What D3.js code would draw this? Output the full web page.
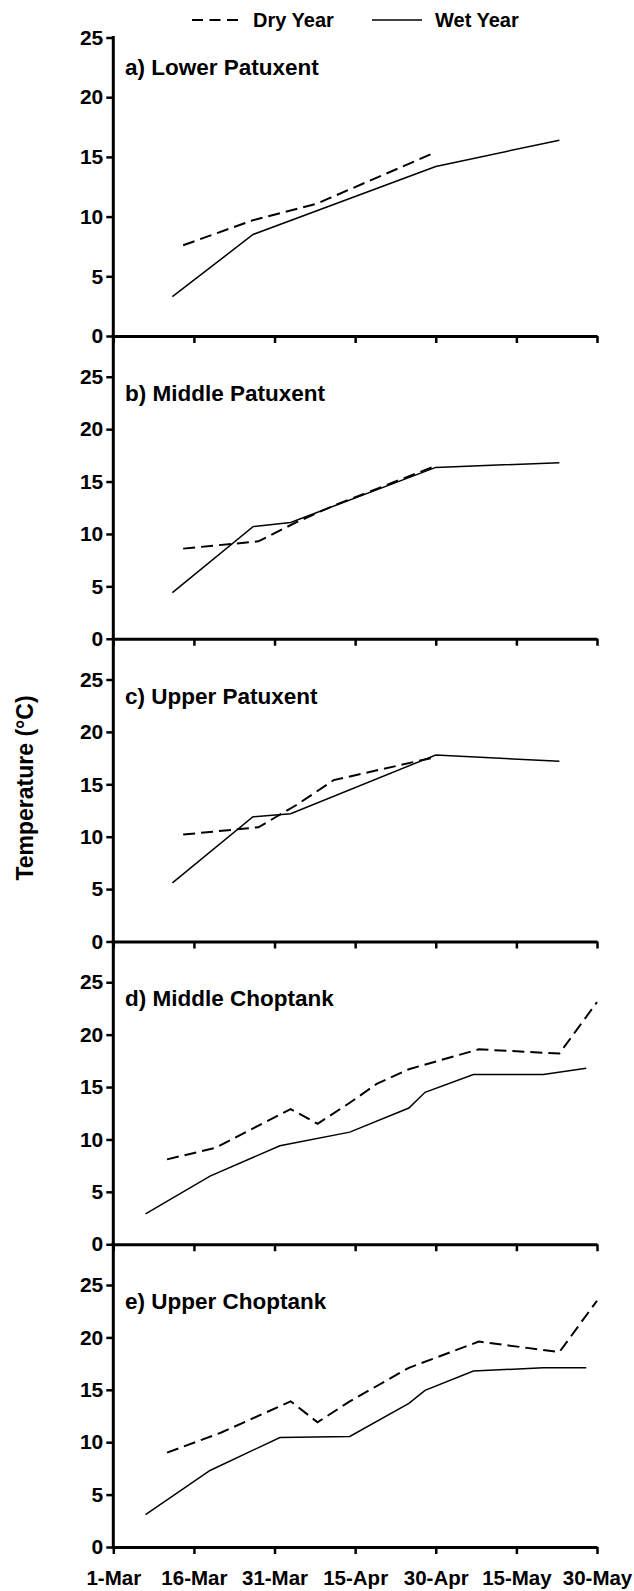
<!DOCTYPE html>
<html><head><meta charset="utf-8">
<script src="https://cdn.jsdelivr.net/npm/d3@7"></script>
<style>
html,body{margin:0;padding:0;background:#fff;}
svg{display:block;}
text{font-family:"Liberation Sans",Arial,Helvetica,sans-serif;font-weight:bold;fill:#000;}
</style></head><body>
<svg id="chart" width="634" height="1591"></svg>
<script>
// ---- data ----
const panelTitles = ["a) Lower Patuxent","b) Middle Patuxent","c) Upper Patuxent","d) Middle Choptank","e) Upper Choptank"];
const xTickDates = ["03-01","03-16","03-31","04-15","04-30","05-15","05-30"];
const xTickLabels = ["1-Mar","16-Mar","31-Mar","15-Apr","30-Apr","15-May","30-May"];
const yTickValues = [0,5,10,15,20,25];
const legendLabels = ["Dry Year","Wet Year"];
const yAxisTitle = "Temperature (°C)";

const lowerPatuxentDry = [["03-14",7.6],["03-27",9.7],["04-08",11.1],["04-10",11.5],["04-30",15.4]];
const lowerPatuxentWet = [["03-12",3.3],["03-27",8.5],["04-30",14.2],["05-23",16.4]];
const middlePatuxentDry = [["03-14",8.6],["03-28",9.3],["04-04",11.1],["04-11",12.7],["04-30",16.5]];
const middlePatuxentWet = [["03-12",4.4],["03-27",10.7],["04-03",11.1],["04-30",16.35],["05-23",16.8]];
const upperPatuxentDry = [["03-14",10.2],["03-28",10.9],["04-04",13.0],["04-11",15.4],["04-30",17.6]];
const upperPatuxentWet = [["03-12",5.6],["03-27",11.9],["04-03",12.2],["04-30",17.8],["05-23",17.2]];
const middleChoptankDry = [["03-11",8.1],["03-20",9.2],["04-03",12.9],["04-08",11.5],["04-14",13.5],["04-19",15.3],["04-25",16.7],["05-08",18.6],["05-23",18.2],["05-30",23.1]];
const middleChoptankWet = [["03-07",2.9],["03-19",6.5],["04-01",9.4],["04-14",10.7],["04-25",13.0],["04-28",14.5],["05-07",16.2],["05-20",16.2],["05-28",16.8]];
const upperChoptankDry = [["03-11",9.0],["03-21",10.9],["04-03",13.9],["04-08",11.9],["04-14",13.9],["04-25",17.1],["05-08",19.6],["05-17",19.0],["05-23",18.6],["05-30",23.5]];
const upperChoptankWet = [["03-07",3.1],["03-19",7.3],["04-01",10.45],["04-14",10.55],["04-25",13.7],["04-28",14.95],["05-07",16.8],["05-20",17.1],["05-28",17.1]];

const dryByPanel = [lowerPatuxentDry, middlePatuxentDry, upperPatuxentDry, middleChoptankDry, upperChoptankDry];
const wetByPanel = [lowerPatuxentWet, middlePatuxentWet, upperPatuxentWet, middleChoptankWet, upperChoptankWet];

// ---- layout ----
const parse = d3.utcParse("%Y-%m-%d");
const toDate = md => parse("2001-" + md);
const left = 113.3, right = 597;
const panelBottoms = [336, 638.75, 941.5, 1244.25, 1547];
const panelTops = [37.5, 336, 638.75, 941.5, 1244.25];
const span25 = [298.5, 262, 262, 262, 262];
const titleBaselines = [75, 400.75, 703.5, 1006.25, 1309];
const dash = "12,6";

const svg = d3.select("#chart");
const x = d3.scaleUtc().domain([toDate("03-01"), toDate("05-30")]).range([left, right]);

panelTitles.forEach((title, i) => {
  const bottom = panelBottoms[i];
  const y = d3.scaleLinear().domain([0, 25]).range([bottom, bottom - span25[i]]);
  const g = svg.append("g");

  const ya = g.append("g").attr("transform", `translate(${left},0)`)
    .call(d3.axisLeft(y).tickValues(yTickValues).tickSize(7).tickPadding(3).tickSizeOuter(0));
  ya.select(".domain").remove();
  ya.selectAll(".tick line").attr("stroke", "#000").attr("stroke-width", 2.5);
  ya.selectAll(".tick text").attr("font-size", 21).attr("font-family", null);

  g.append("line").attr("x1", left).attr("x2", left)
    .attr("y1", panelTops[i]).attr("y2", bottom)
    .attr("stroke", "#000").attr("stroke-width", 3).attr("stroke-linecap", "square");

  const xa = g.append("g").attr("transform", `translate(0,${bottom})`)
    .call(d3.axisBottom(x).tickValues(xTickDates.map(toDate)).tickSize(7).tickPadding(16).tickSizeOuter(0)
      .tickFormat((d, j) => i === 4 ? xTickLabels[j] : ""));
  xa.select(".domain").attr("stroke", "#000").attr("stroke-width", 3);
  xa.selectAll(".tick line").attr("stroke", "#000").attr("stroke-width", 2.5);
  xa.selectAll(".tick text").attr("font-size", 20.5).attr("font-family", null);

  const line = d3.line().x(d => x(toDate(d[0]))).y(d => y(d[1]));
  g.append("path").datum(wetByPanel[i]).attr("d", line)
    .attr("fill", "none").attr("stroke", "#000").attr("stroke-width", 1.5);
  g.append("path").datum(dryByPanel[i]).attr("d", line)
    .attr("fill", "none").attr("stroke", "#000").attr("stroke-width", 2).attr("stroke-dasharray", dash);

  g.append("text").attr("x", 125).attr("y", titleBaselines[i])
    .attr("font-size", 22.5).text(title);
});

svg.append("text").attr("transform", "translate(33,788) rotate(-90)")
  .attr("text-anchor", "middle").attr("font-size", 23).text(yAxisTitle);

const lg = svg.append("g");
lg.append("line").attr("x1", 192).attr("x2", 238).attr("y1", 20).attr("y2", 20)
  .attr("stroke", "#000").attr("stroke-width", 2).attr("stroke-dasharray", "11,6.5");
lg.append("text").attr("x", 253).attr("y", 27).attr("font-size", 20).text(legendLabels[0]);
lg.append("line").attr("x1", 372).attr("x2", 422).attr("y1", 20).attr("y2", 20)
  .attr("stroke", "#000").attr("stroke-width", 1.5);
lg.append("text").attr("x", 435).attr("y", 27).attr("font-size", 20).text(legendLabels[1]);
</script>
</body></html>
